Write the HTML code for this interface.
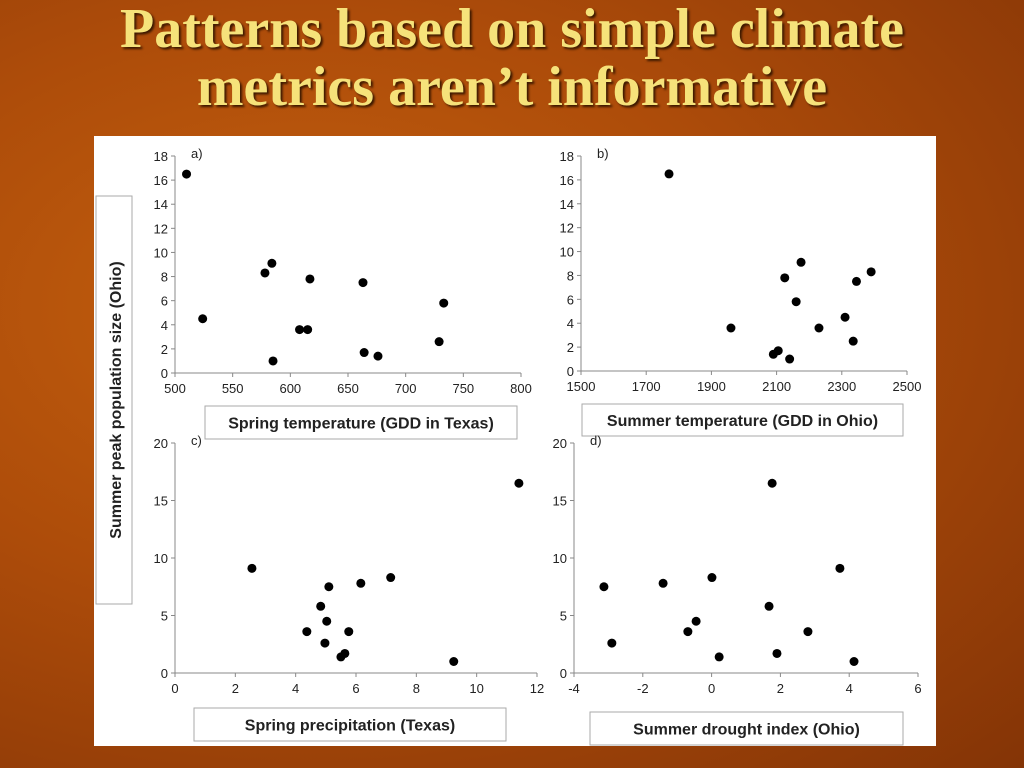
<!DOCTYPE html>
<html><head><meta charset="utf-8"><style>
body{margin:0;width:1024px;height:768px;overflow:hidden;background:radial-gradient(ellipse at 30% 40%,#c4600e 0%,#ad4c0a 45%,#843406 100%);font-family:"Liberation Sans",sans-serif;}
#title{position:absolute;left:0;top:0px;width:1024px;text-align:center;font-family:"Liberation Serif",serif;font-weight:bold;font-size:56px;line-height:58px;color:#f6e27a;text-shadow:2px 2px 2px #3a1800;}
#panel{position:absolute;left:94px;top:136px;width:842px;height:610px;background:#fff;}
svg{position:absolute;left:0;top:0}
</style></head><body>
<div id="title">Patterns based on simple climate<br>metrics aren’t informative</div>
<div id="panel"></div>
<svg id="chart" width="1024" height="768"></svg>
<script>
const aX=[510,524,578,584,585,608,615,617,663,664,676,729,733];
const aY=[16.5,4.5,8.3,9.1,1.0,3.6,3.6,7.8,7.5,1.7,1.4,2.6,5.8];
const bX=[1770,1960,2090,2105,2125,2140,2160,2175,2230,2310,2335,2345,2390];
const bY=[16.5,3.6,1.4,1.7,7.8,1.0,5.8,9.1,3.6,4.5,2.5,7.5,8.3];
const cX=[2.55,4.37,4.83,4.97,5.03,5.1,5.5,5.63,5.76,6.16,7.15,9.24,11.4];
const cY=[9.1,3.6,5.8,2.6,4.5,7.5,1.4,1.7,3.6,7.8,8.3,1.0,16.5];
const dX=[-3.13,-2.9,-1.41,-0.69,-0.45,0.01,0.22,1.67,1.76,1.9,2.8,3.73,4.14];
const dY=[7.5,2.6,7.8,3.6,4.5,8.3,1.4,5.8,16.5,1.7,3.6,9.1,1.0];
const aXT=[500,550,600,650,700,750,800], aYT=[0,2,4,6,8,10,12,14,16,18];
const bXT=[1500,1700,1900,2100,2300,2500], bYT=[0,2,4,6,8,10,12,14,16,18];
const cXT=[0,2,4,6,8,10,12], cYT=[0,5,10,15,20];
const dXT=[-4,-2,0,2,4,6], dYT=[0,5,10,15,20];
const svg=document.getElementById('chart');
const NS='http://www.w3.org/2000/svg';
function mk(t,a){const e=document.createElementNS(NS,t);for(const k in a)e.setAttribute(k,a[k]);svg.appendChild(e);return e;}
function panel(id,xs,ys,xt,yt,px0,px1,py0,py1,lbl,title,box){
  const xmin=xt[0],xmax=xt[xt.length-1],ymin=yt[0],ymax=yt[yt.length-1];
  const sx=v=>px0+(v-xmin)/(xmax-xmin)*(px1-px0);
  const sy=v=>py0-(v-ymin)/(ymax-ymin)*(py0-py1);
  let l=mk('line',{x1:px0,y1:py0,x2:px1,y2:py0,stroke:'#888','stroke-width':1});
  
  l=mk('line',{x1:px0,y1:py0,x2:px0,y2:py1,stroke:'#888','stroke-width':1});
  
  xt.forEach(v=>{const x=sx(v);mk('line',{x1:x,y1:py0,x2:x,y2:py0+4,stroke:'#888'});
    const t=mk('text',{x:x,y:py0+20,'font-size':13,'text-anchor':'middle',fill:'#222'});t.textContent=v;
    });
  yt.forEach(v=>{const y=sy(v);mk('line',{x1:px0-4,y1:y,x2:px0,y2:y,stroke:'#888'});
    const t=mk('text',{x:px0-7,y:y+5,'font-size':13,'text-anchor':'end',fill:'#222'});t.textContent=v;
    });
  xs.forEach((v,i)=>{const c=mk('circle',{cx:sx(v),cy:sy(ys[i]),r:4.5,fill:'#000'});
    });
  const p=mk('text',{x:px0+16,y:py1+2,'font-size':13,fill:'#222'});p.textContent=lbl;
  
  const r=mk('rect',{x:box[0],y:box[1],width:box[2],height:box[3],fill:'#fff',stroke:'#aaa'});
  
  const tt=mk('text',{x:box[0]+box[2]/2,y:box[1]+box[3]/2+6,'font-size':16,'font-weight':'bold','text-anchor':'middle',fill:'#222'});tt.textContent=title;
  
}
panel('panel-a',aX,aY,aXT,aYT,175,521,373,156,'a)','Spring temperature (GDD in Texas)',[205,406,312,33]);
panel('panel-b',bX,bY,bXT,bYT,581,907,371,156,'b)','Summer temperature (GDD in Ohio)',[582,404,321,32]);
panel('panel-c',cX,cY,cXT,cYT,175,537,673,443,'c)','Spring precipitation (Texas)',[194,708,312,33]);
panel('panel-d',dX,dY,dXT,dYT,574,918,673,443,'d)','Summer drought index (Ohio)',[590,712,313,33]);
const yb=mk('rect',{x:96,y:196,width:36,height:408,fill:'#fff',stroke:'#aaa'});

const yt=mk('text',{x:0,y:0,'font-size':16,'font-weight':'bold','text-anchor':'middle',fill:'#222',transform:'translate(121,400) rotate(-90)'});
yt.textContent='Summer peak population size (Ohio)';

</script>
</body></html>
